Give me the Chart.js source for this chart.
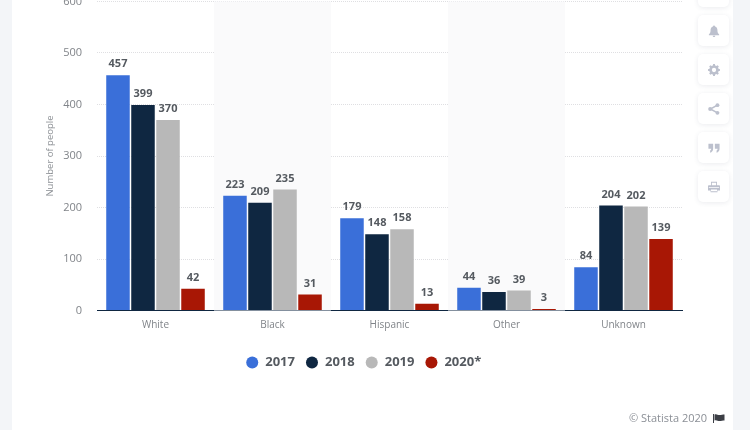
<!DOCTYPE html>
<html>
<head>
<meta charset="utf-8">
<script src="https://cdn.jsdelivr.net/npm/chart.js@4"></script>
<style>
  html, body { margin: 0; padding: 0; width: 750px; height: 430px; overflow: hidden; background: #f3f5f8; font-family: "Open Sans", sans-serif; }
  #panel { position: absolute; left: 12px; top: 0; width: 721px; height: 430px; background: #fff; }
  #wrap { position: absolute; left: 0; top: 0; width: 750px; height: 430px; }
  .tool { position: absolute; left: 698px; width: 31px; height: 31px; background: #fff; border-radius: 5px;
          box-shadow: 0 1px 5px rgba(60,70,100,.10); display: flex; align-items: center; justify-content: center; }
  .tool svg { width: 12px; height: 12px; fill: #bcc0cd; }
  #credit { position: absolute; left: 629px; top: 410px; font-size: 11px; line-height: 16px; color: #8b8f96; white-space: nowrap; }
  #flag { position: absolute; left: 713px; top: 414px; width: 12px; height: 9px; fill: #3c3f46; }
</style>
</head>
<body>
<div id="panel"></div>
<div class="tool" style="top:-24px"></div>
<div class="tool" style="top:15px"><svg viewBox="0 0 14 14"><path d="M7 0.5a1.2 1.2 0 0 1 1.2 1.2C10.3 2.3 11 4 11 6c0 3 1 4 2 5v1H1v-1c1-1 2-2 2-5 0-2 .7-3.700 2.800-4.300A1.200 1.200 0 0 1 7 .5zM5.500 12.600h3a1.500 1.500 0 0 1-3 0z"/></svg></div>
<div class="tool" style="top:54px"><svg viewBox="0 0 14 14"><path fill-rule="evenodd" d="M6 1h2l.4 1.700 1.300.6 1.500-.9 1.400 1.400-.9 1.500.6 1.300 1.700.4v2l-1.700.4-.6 1.300.9 1.500-1.400 1.400-1.500-.9-1.300.6L8 15H6l-.4-1.700-1.300-.6-1.500.9-1.400-1.400.9-1.500-.6-1.300L0 9V7l1.700-.4.6-1.300-.9-1.500 1.400-1.400 1.500.9 1.300-.6zM7 5.500a2.500 2.500 0 1 0 0 5 2.500 2.500 0 0 0 0-5z" transform="translate(0 -1)"/></svg></div>
<div class="tool" style="top:93px"><svg viewBox="0 0 14 14"><circle cx="2.500" cy="7" r="2.300"/><circle cx="11" cy="2.500" r="2.300"/><circle cx="11" cy="11.500" r="2.300"/><path d="M2.500 6.200 10.600 1.800l.8 1.400L3.300 7.800zM3.300 6.200l8.100 4.600-.8 1.400L2.500 7.800z"/></svg></div>
<div class="tool" style="top:132px"><svg viewBox="0 0 14 14"><path d="M0.500 2h5.500v6c0 2.500-1.500 4-3.500 4.500V10c.8-.3 1.200-.9 1.200-2H.500zM8 2h5.500v6c0 2.500-1.500 4-3.500 4.500V10c.8-.3 1.200-.9 1.200-2H8z"/></svg></div>
<div class="tool" style="top:171px"><svg viewBox="0 0 14 14"><path fill-rule="evenodd" d="M3.500 1h7v4h2.500a1 1 0 0 1 1 1v5h-3v2h-8v-2H0V6a1 1 0 0 1 1-1h2.500zM4.500 2v3h5V2zM1 7v1h12V7zM3.500 10v2h7v-2z"/></svg></div>
<div id="wrap"><canvas id="chart" width="750" height="430"></canvas></div>
<div id="credit">© Statista 2020</div>
<svg id="flag" viewBox="0 0 12 9"><path d="M0 0h1v9H0zM1.500 0.500c2-1 3 .5 5 .5s3-.5 5-.5v6c-2 0-3 .5-5 .5s-3-1.500-5-.5z"/></svg>

<script>
const categories = ["White", "Black", "Hispanic", "Other", "Unknown"];
const seriesNames = ["2017", "2018", "2019", "2020*"];
const values2017 = [457, 223, 179, 44, 84];
const values2018 = [399, 209, 148, 36, 204];
const values2019 = [370, 235, 158, 39, 202];
const values2020 = [42, 31, 13, 3, 139];
const seriesColors = ["#3a6fd9", "#0f2741", "#b8b8b8", "#a81705"];
const yTicks = [0, 100, 200, 300, 400, 500, 600];

const FONT = '"Open Sans", sans-serif';

// Tints every second category behind the bars.
const categoryBands = {
  id: "categoryBands",
  beforeDatasetsDraw(chart) {
    const { ctx, chartArea, scales } = chart;
    const step = scales.x.width / categories.length;
    ctx.save();
    ctx.fillStyle = "#fafafb";
    categories.forEach((_, i) => {
      if (i % 2 === 1) {
        ctx.fillRect(scales.x.getPixelForValue(i) - step / 2, chartArea.top, step, chartArea.height);
      }
    });
    ctx.restore();
  }
};

// Prints each bar's value just above it.
const valueLabels = {
  id: "valueLabels",
  afterDatasetsDraw(chart) {
    const { ctx } = chart;
    ctx.save();
    ctx.font = "700 11px " + FONT;
    ctx.fillStyle = "#555a60";
    ctx.textAlign = "center";
    ctx.textBaseline = "middle";
    chart.data.datasets.forEach((ds, d) => {
      chart.getDatasetMeta(d).data.forEach((bar, i) => {
        ctx.fillText(String(ds.data[i]), bar.x, bar.y - 11);
      });
    });
    ctx.restore();
  }
};

const allValues = [values2017, values2018, values2019, values2020];

new Chart(document.getElementById("chart"), {
  type: "bar",
  data: {
    labels: categories,
    datasets: seriesNames.map((name, i) => ({
      label: name,
      data: allValues[i],
      backgroundColor: seriesColors[i],
      barPercentage: 0.94,
      categoryPercentage: 0.855
    }))
  },
  options: {
    responsive: false,
    animation: false,
    layout: { padding: { left: 45, right: 68, top: 1.5, bottom: 51 } },
    plugins: {
      tooltip: { enabled: false },
      legend: {
        position: "bottom",
        labels: {
          usePointStyle: true,
          pointStyle: "circle",
          boxHeight: 8.5,
          padding: 10.5,
          color: "#555a60",
          font: { family: FONT, size: 13, weight: "700" }
        }
      }
    },
    scales: {
      x: {
        afterFit(axis) { axis.height += 13; },
        grid: { display: false },
        border: { color: "#0f2741", width: 1 },
        ticks: { color: "#808489", font: { family: FONT, size: 10 }, padding: 1 }
      },
      y: {
        min: 0,
        max: 600,
        afterBuildTicks(axis) { axis.ticks = yTicks.map(v => ({ value: v })); },
        afterFit(axis) { axis.width = 52; axis.paddingTop = 0; axis.paddingBottom = 0; },
        grid: { color: "#dfdfe2", drawTicks: false },
        border: { display: false, dash: [1, 1] },
        ticks: { color: "#808489", font: { family: FONT, size: 11 }, padding: 15 },
        title: { display: true, text: "Number of people", color: "#8c9095", font: { family: FONT, size: 9.5 }, padding: { top: 0, bottom: 0 } }
      }
    }
  },
  plugins: [categoryBands, valueLabels]
});
</script>
</body>
</html>
